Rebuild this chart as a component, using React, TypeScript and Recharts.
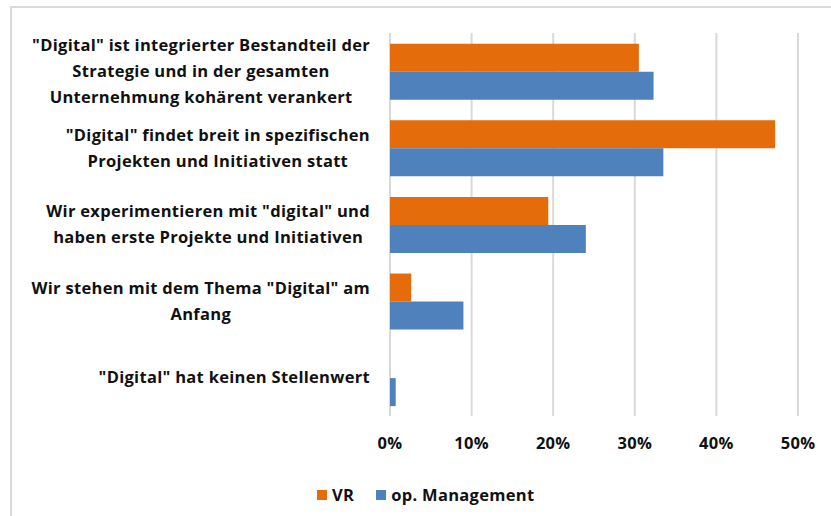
import { BarChart, Bar, XAxis, YAxis, CartesianGrid, Legend } from 'recharts';

// survey categories, top to bottom (\n marks the line breaks of the axis label)
const categories = [
  '"Digital" ist integrierter Bestandteil der\nStrategie und in der gesamten\nUnternehmung kohärent verankert',
  '"Digital" findet breit in spezifischen\nProjekten und Initiativen statt',
  'Wir experimentieren mit "digital" und\nhaben erste Projekte und Initiativen',
  'Wir stehen mit dem Thema "Digital" am\nAnfang',
  '"Digital" hat keinen Stellenwert',
];
const vr = [30.5, 47.2, 19.4, 2.6, 0];
const opManagement = [32.3, 33.5, 24.0, 9.0, 0.7];
const xTicks = [0, 10, 20, 30, 40, 50];

const data = categories.map((name, i) => ({ name, vr: vr[i], op: opManagement[i] }));

const FONT = '"Open Sans", Lato, sans-serif';
const FONT_SIZE = 16.5;
const SPACING = 0.3;
const TEXT = '#111111';

let ctx: CanvasRenderingContext2D | null = null;
const measure = (s: string) => {
  if (!ctx) ctx = document.createElement('canvas').getContext('2d');
  if (!ctx) return s.length * 8;
  ctx.font = `bold ${FONT_SIZE}px "Open Sans"`;
  return ctx.measureText(s).width + s.length * SPACING;
};

// multi-line label, lines centred on each other, block right-aligned to the axis
const CategoryTick = (props: any) => {
  const { x, y, payload } = props;
  const lines = String(payload.value).split('\n');
  const w = Math.max(...lines.map(measure));
  const cx = x - w / 2;
  const lh = 26;
  const y0 = y - ((lines.length - 1) * lh) / 2;
  return (
    <text
      textAnchor="middle"
      fontFamily={FONT}
      fontWeight={700}
      fontSize={FONT_SIZE}
      letterSpacing={SPACING}
      fill={TEXT}
    >
      {lines.map((l, i) => (
        <tspan key={i} x={cx} y={y0 + i * lh} dy="0.35em">
          {l}
        </tspan>
      ))}
    </text>
  );
};

const LegendContent = (props: any) => {
  const { payload = [] } = props;
  return (
    <div
      style={{
        display: 'flex',
        alignItems: 'center',
        fontFamily: FONT,
        fontWeight: 700,
        fontSize: FONT_SIZE,
        letterSpacing: SPACING,
        color: TEXT,
        lineHeight: '20px',
      }}
    >
      {payload.map((p: any) => (
        <span key={p.value} style={{ display: 'flex', alignItems: 'center', marginRight: 22 }}>
          <span style={{ display: 'inline-block', width: 10, height: 10, background: p.color, marginRight: 5 }} />
          {p.value}
        </span>
      ))}
    </div>
  );
};

export default function App() {
  return (
    <div style={{ position: 'absolute', left: 0, top: 0, width: 831, height: 516, overflow: 'hidden', background: '#fff' }}>
      <div
        style={{
          position: 'absolute',
          left: 10,
          top: 6,
          width: 840,
          height: 530,
          borderTop: '2px solid #d9d9d9',
          borderLeft: '2px solid #d9d9d9',
        }}
      />
      <BarChart
        width={831}
        height={516}
        data={data}
        layout="vertical"
        margin={{ top: 33, right: 33, left: 0, bottom: 60 }}
        barCategoryGap="14%"
        barGap={0}
        style={{ position: 'absolute', left: 0, top: 0 }}
      >
        <CartesianGrid horizontal={false} stroke="#d9d9d9" strokeWidth={2} />
        <XAxis
          type="number"
          domain={[0, 50]}
          ticks={xTicks}
          tickFormatter={(v) => `${v}%`}
          axisLine={false}
          tickLine={false}
          tickSize={0}
          tickMargin={21}
          height={40}
          tick={{ fontFamily: FONT, fontWeight: 700, fontSize: FONT_SIZE, letterSpacing: SPACING, fill: TEXT }}
        />
        <YAxis
          type="category"
          dataKey="name"
          width={390}
          axisLine={false}
          tickLine={false}
          tickSize={0}
          tickMargin={20}
          interval={0}
          tick={<CategoryTick />}
        />
        <Legend
          layout="horizontal"
          verticalAlign="middle"
          align="center"
          content={<LegendContent />}
          wrapperStyle={{ left: 317, top: 485, width: 320 }}
        />
        <Bar dataKey="vr" name="VR" fill="#E46C0A" isAnimationActive={false} />
        <Bar dataKey="op" name="op. Management" fill="#4F81BD" isAnimationActive={false} />
      </BarChart>
    </div>
  );
}
